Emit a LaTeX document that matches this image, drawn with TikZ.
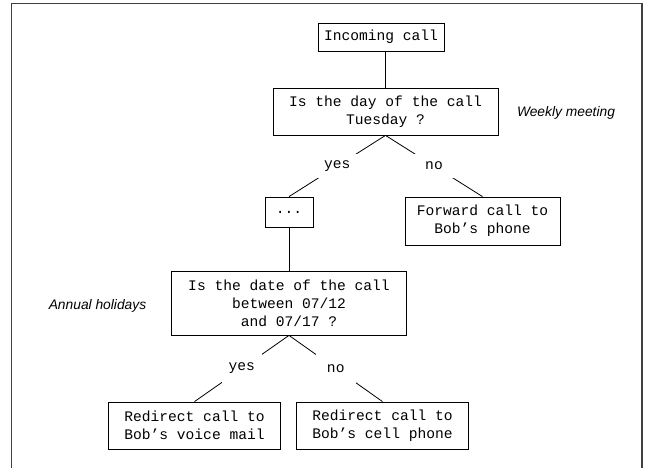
\documentclass[tikz,border=0pt]{standalone}
\usepackage{fontspec}
\setmonofont{Liberation Mono}
\setsansfont{Liberation Sans}
\usepackage{tikz}
\usetikzlibrary{positioning}

\tikzset{
  box/.style={draw,line width=0.8pt,align=center,inner sep=2pt,font=\ttfamily\fontsize{14.6}{18}\selectfont},
  answer/.style={fill=white,inner sep=0pt,minimum width=40pt,minimum height=24pt,font=\ttfamily\fontsize{14.6}{18}\selectfont},
  note/.style={font=\sffamily\itshape\fontsize{13.8}{16}\selectfont}
}

\begin{document}
\begin{tikzpicture}[x=1pt,y=-1pt,on grid,line width=0.8pt]
        \useasboundingbox (0,0) rectangle (654,468);
        \draw[line width=1.4pt,black!75] (11.7,468) -- (11.7,3.7) -- (642,3.7) -- (642,468);
        \node[box,minimum width=126pt,minimum height=28pt] (call) at (381,37) {Incoming call};
        \node[box,minimum width=225pt,minimum height=47pt] (day) [below right=74.5pt and 4.5pt of call] {Is the day of the call\\Tuesday ?};
        \node[box,minimum width=48pt,minimum height=30pt] (dots) [below left=100.5pt and 96.5pt of day] {...};
        \node[box,minimum width=155pt,minimum height=48pt] (fwd) [below right=109.5pt and 97pt of day] {Forward call to\\Bob’s phone};
        \node[box,minimum width=235pt,minimum height=64pt] (date) [below=91pt of dots] {Is the date of the call\\between 07/12\\and 07/17 ?};
        \node[box,minimum width=172pt,minimum height=47pt] (vm) [below left=122.5pt and 94.5pt of date] {Redirect call to\\Bob’s voice mail};
        \node[box,minimum width=172pt,minimum height=47pt] (cell) [below right=122.5pt and 93.5pt of date] {Redirect call to\\Bob’s cell phone};
        \node[note] (weekly) [right=180.5pt of day,yshift=-1pt] {Weekly meeting};
        \node[note] (annual) [left=191.5pt of date,yshift=-3pt] {Annual holidays};
        \tikzset{every node/.style={answer}}
        \path   (call.south -| day.north) edge (day.north)
                (day.south) edge node {yes} (dots.north)
                (day.south) edge node {no} (fwd.north)
                (dots.south) edge (date.north)
                (date.south) edge node[minimum height=30pt] {yes} (vm.north)
                (date.south) edge node[minimum height=30pt] {no} (cell.north);
    \end{tikzpicture}
\end{document}
